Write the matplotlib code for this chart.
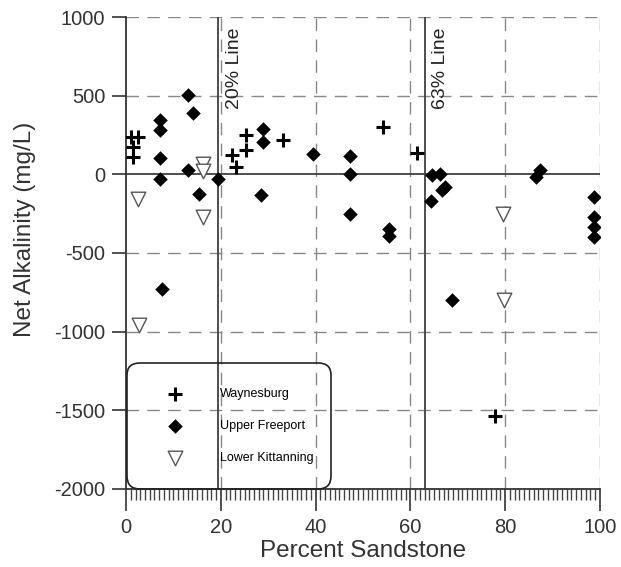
import matplotlib
matplotlib.use("Agg")
import matplotlib.pyplot as plt
from matplotlib.ticker import MultipleLocator

plt.rcParams['font.family'] = ['Liberation Sans', 'DejaVu Sans']
plt.rcParams['axes.unicode_minus'] = False

# Waynesburg
way_x = [1.0, 2.5, 1.5, 1.5, 22.3, 23.3, 25.3, 25.3, 33.2, 54.3, 61.3, 77.8]
way_y = [240, 240, 173, 110, 121, 46, 248, 152, 216, 301, 138, -1535]

# Upper Freeport
uf_x = [13.1, 14.2, 7.2, 7.2, 7.2, 7.2, 13.1, 15.3, 19.3, 29.0, 29.0, 28.4,
        39.4, 47.3, 47.3, 47.3, 55.5, 55.5, 64.5, 66.2, 67.3, 66.6, 64.3,
        87.3, 86.6, 98.7, 98.7, 98.7, 98.7, 7.5, 68.7]
uf_y = [502, 392, 347, 280, 106, -27, 30, -127, -32, 290, 205, -133,
        131, 114, 0, -250, -350, -390, -6, 4, -80, -102, -171,
        25, -17, -144, -271, -335, -398, -726, -800]

# Lower Kittanning
lk_x = [2.6, 16.3, 16.3, 16.3, 2.8, 79.6, 79.7]
lk_y = [-155, 64, 20, -271, -960, -250, -800]

fig = plt.figure(figsize=(6.21, 5.67), dpi=100)
ax = fig.add_axes([0.203, 0.1376, 0.763, 0.8324])

ax.set_xlim(0, 100)
ax.set_ylim(-2000, 1000)

# dashed grid
dash = (0, (9, 6))
for gx in [20, 40, 60, 80, 100]:
    ax.axvline(gx, color='#888888', lw=1.0, ls=dash, zorder=1)
for gy in [-1500, -1000, -500, 500, 1000]:
    ax.axhline(gy, color='#888888', lw=1.0, ls=dash, zorder=1)

# solid reference lines
ax.axhline(0, color='#404040', lw=1.3, zorder=2)
ax.axvline(19.5, color='#404040', lw=1.3, zorder=2)
ax.axvline(63, color='#404040', lw=1.3, zorder=2)
ax.text(21.0, 935, '20% Line', rotation=90, ha='left', va='top',
        fontsize=14, color='#222222')
ax.text(64.5, 935, '63% Line', rotation=90, ha='left', va='top',
        fontsize=14, color='#222222')

ax.scatter(way_x, way_y, marker='+', s=110, c='black', linewidths=2.2,
           zorder=4, label='Waynesburg')
ax.scatter(uf_x, uf_y, marker='D', s=55, c='black', linewidths=0,
           zorder=4, label='Upper Freeport')
ax.scatter(lk_x, lk_y, marker='v', s=110, facecolors='white',
           edgecolors='#555555', linewidths=1.0, zorder=4,
           label='Lower Kittanning')

for s in ['top', 'right']:
    ax.spines[s].set_visible(False)
ax.spines['left'].set_color('#333333')
ax.spines['bottom'].set_color('#333333')
ax.spines['left'].set_linewidth(1.3)
ax.spines['bottom'].set_linewidth(1.3)

ax.set_xticks([0, 20, 40, 60, 80, 100])
ax.set_yticks([-2000, -1500, -1000, -500, 0, 500, 1000])
ax.xaxis.set_minor_locator(MultipleLocator(1))
ax.tick_params(axis='x', which='major', direction='out', length=16,
               width=1.2, labelsize=14.5, pad=5, colors='#333333')
ax.tick_params(axis='x', which='minor', direction='out', length=8,
               width=1.0, colors='#444444')
ax.tick_params(axis='y', which='major', direction='out', length=10,
               width=1.2, labelsize=14.5, pad=5, colors='#333333')

ax.set_xlabel('Percent Sandstone', fontsize=17.5, color='#333333')
ax.set_ylabel('Net Alkalinity (mg/L)', fontsize=17.5, color='#333333')
ax.xaxis.set_label_coords(0.5, -0.108)
ax.yaxis.set_label_coords(-0.19, 0.549)

leg = ax.legend(loc='lower left', bbox_to_anchor=(0.002, 0.0, 0.43, 0.26),
                mode='expand',
                prop={'family': ['Liberation Sans Narrow', 'Liberation Sans'],
                      'size': 9},
                frameon=True, fancybox=True, edgecolor='#222222',
                facecolor='none', borderpad=2.0, labelspacing=1.6,
                handletextpad=1.8, borderaxespad=0.0, scatterpoints=1,
                handlelength=3.6)
frame = leg.get_frame()
frame.set_linewidth(1.2)
frame.set_alpha(None)
frame.set_boxstyle('round', pad=0, rounding_size=1.0)
leg.set_zorder(5)

fig.savefig('out.png', dpi=100)
